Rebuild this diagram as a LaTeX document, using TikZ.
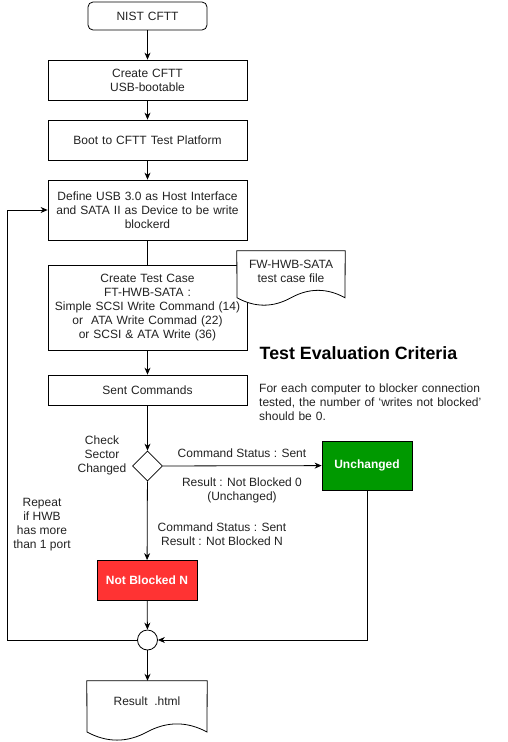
\documentclass[tikz,border=0pt]{standalone}
\usepackage{fontspec}
\setmainfont{Liberation Sans}
\usetikzlibrary{shapes.geometric,arrows.meta,calc}
\definecolor{okgreen}{HTML}{009900}
\definecolor{badred}{HTML}{FF3333}
\definecolor{txt}{HTML}{222222}
\begin{document}
\begin{tikzpicture}[x=1pt,y=-1pt,
  every node/.style={font=\fontsize{12}{14}\selectfont, text=txt},
  box/.style={draw, line width=0.8pt, fill=white, align=center, inner sep=0pt, minimum width=199, text width=195},
  lbl/.style={align=center, inner sep=0pt},
  conn/.style={line width=0.8pt},
  arr/.style={conn, -{Stealth[length=7pt,width=6pt]}},
  shp/.style={draw, line width=0.8pt, fill=white}]
\useasboundingbox (0,0) rectangle (508,742);

\node[box, rounded corners=5pt, minimum width=119, text width=115, minimum height=28] (nist) at (147.5,16) {NIST CFTT};
\node[box, minimum height=40] (create) at (147.5,80) {Create CFTT\\USB-bootable};
\node[box, minimum height=40] (boot) at (147.5,140) {Boot to CFTT Test Platform};
\node[box, minimum height=60] (define) at (147.5,210) {Define USB 3.0 as Host Interface\\and SATA II as Device to be write\\blockerd};
\node[box, minimum height=85] (tcase) at (147.5,307.5) {Create Test Case\\FT-HWB-SATA :\\Simple SCSI Write Command (14)\\or\ \ ATA Write Commad (22)\\or SCSI \& ATA Write (36)};

% FW document shape
\node[inner sep=0pt, minimum width=108, minimum height=55] (fwdoc) at (291,278.5) {};
\draw[shp] (fwdoc.north west) -- (fwdoc.north east) -- (345,297.75)
  .. controls (327,287.85) and (309,287.85) .. (291,297.75)
  .. controls (273,307.65) and (255,307.65) .. (237,297.75) -- cycle;
\node[lbl] (fwtxt) at (291,271.5) {FW-HWB-SATA\\test case file};

\node[box, minimum height=30] (sent) at (147.5,390) {Sent Commands};

\node[lbl, anchor=west, font=\fontsize{17.8}{21}\bfseries\selectfont, text=black] (crit) at (259.5,353) {Test Evaluation Criteria};
\node[lbl, anchor=north west, align=left, text width=250] (crittxt) at (259,384) {For each computer to blocker connection\\tested, the number of ‘writes not blocked’\\should be 0.};

\node[diamond, draw, line width=0.8pt, minimum width=30, minimum height=30, inner sep=0pt, aspect=1] (dia) at (147.5,466) {};
\node[lbl] (chk) at (102,455) {Check\\Sector\\Changed};

\node[draw, line width=0.8pt, fill=okgreen, minimum width=90, minimum height=49, inner sep=0pt, text=white, font=\fontsize{12}{14}\bfseries\selectfont] (unch) at (367,465.5) {Unchanged};
\node[draw, line width=0.8pt, fill=badred, minimum width=100, minimum height=40, inner sep=0pt, text=white, font=\fontsize{12}{14}\bfseries\selectfont] (notb) at (147,580.5) {Not Blocked N};

\node[circle, draw, line width=0.8pt, minimum size=20, inner sep=0pt] (join) at (147.5,640) {};

% Result document
\node[inner sep=0pt, minimum width=120, minimum height=60] (res) at (147,711) {};
\draw[shp] (res.north west) -- (res.north east) -- (207,732)
  .. controls (187,721.2) and (167,721.2) .. (147,732)
  .. controls (127,742.8) and (107,742.8) .. (87,732) -- cycle;
\node[lbl] (restxt) at (147,701) {Result\ \ .html};

% connectors
\draw[arr] (nist) -- (create);
\draw[arr] (create) -- (boot);
\draw[arr] (boot) -- (define);
\draw[conn] (define) -- (tcase);
\draw[arr] (tcase) -- (sent);
\draw[arr] (sent) -- (dia);
\draw[arr] (dia) -- (unch);
\draw[arr] (dia) -- (notb);
\draw[arr] (notb) -- (join);
\draw[arr] (join.south) -- (res.north -| join.south);
\draw[arr] (unch.south) |- (join.east);
\draw[arr] (join.west) -- (7,640) |- (define.west);

% labels
\node[lbl] (l1) at (242,453) {Command Status : Sent};
\node[lbl] (l2) at (242,490) {Result : Not Blocked 0\\(Unchanged)};
\node[lbl] (l3) at (222,534.5) {Command Status : Sent\\Result : Not Blocked N};
\node[lbl] (l4) at (42,525) {Repeat\\if HWB\\has more\\than 1 port};
\end{tikzpicture}
\end{document}
